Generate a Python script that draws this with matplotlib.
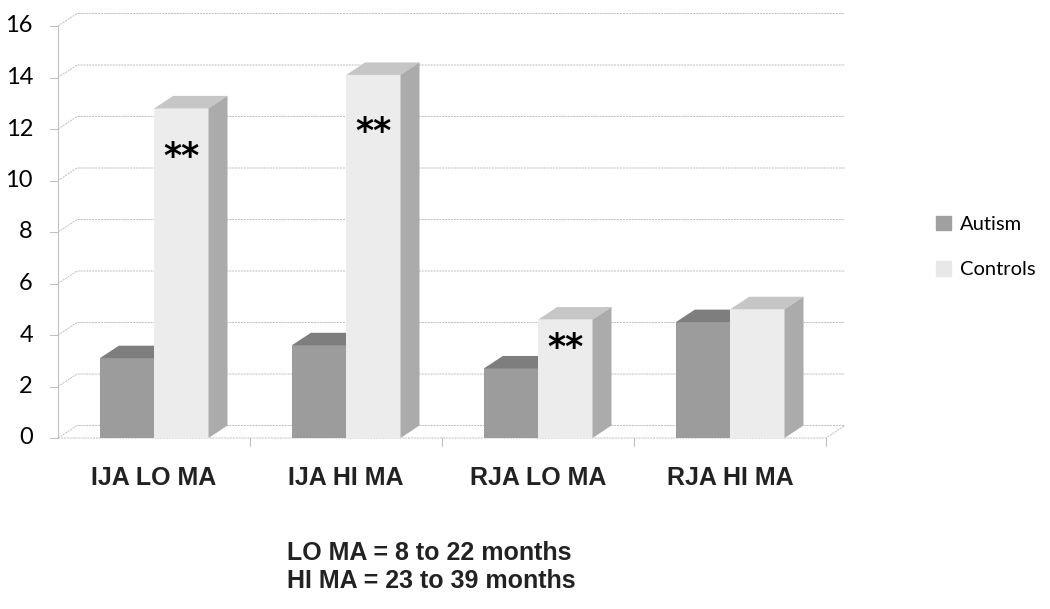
import numpy as np
import matplotlib.pyplot as plt
from matplotlib.patches import Polygon, Patch

# data
categories = ["IJA LO MA", "IJA HI MA", "RJA LO MA", "RJA HI MA"]
autism = [3.1, 3.6, 2.7, 4.5]
controls = [12.8, 14.1, 4.6, 5.0]
stars = ["**", "**", "**", ""]
star_y = [10.9, 11.9, 3.5, 0]
yticks = [0, 2, 4, 6, 8, 10, 12, 14, 16]
footnote = ["LO MA = 8 to 22 months", "HI MA = 23 to 39 months"]

W, H = 1050, 609
fig = plt.figure(figsize=(W / 100, H / 100), dpi=100)
# plot area in pixels: x 58..826, y 26..438
ax = fig.add_axes([58 / W, 1 - 438 / H, 768 / W, 412 / H])
ax.set_xlim(0, 4)
ax.set_ylim(0, 16)
ax.axis("off")

# depth offset in data units
px_x = 4 / 768
px_y = 16 / 412
dx = 19 * px_x
dy = 12.5 * px_y

grid_c = "#bdbdbd"
# walls / gridlines
ax.plot([0, 0], [0, 16], color=grid_c, lw=0.7, clip_on=False)
for t in yticks:
    ax.plot([0, dx, 4 + dx], [t, t + dy, t + dy], color=grid_c, lw=0.7,
            ls=(0, (2, 1)), clip_on=False)
    ax.plot([-8 * px_x, 0], [t, t], color=grid_c, lw=0.7, clip_on=False)
    ax.text(-25 * px_x, t, str(t), ha="right", va="center",
            fontsize=17, family="Lato", color="black")
# floor
ax.plot([0, 4, 4 + dx], [0, 0, dy], color=grid_c, lw=0.7,
        ls=(0, (2, 1)), clip_on=False)
for i in range(1, 5):
    ax.plot([i, i], [0, -8 * px_y], color=grid_c, lw=0.7, clip_on=False)

bw = 0.283
x0 = 0.218


def bar3d(x, w, v, front, top, side):
    ax.bar(x, v, width=w, align="edge", color=front, edgecolor="none",
           zorder=3)
    ax.add_patch(Polygon([(x, v), (x + dx, v + dy), (x + w + dx, v + dy),
                          (x + w, v)], closed=True, color=top, lw=0,
                         zorder=3, clip_on=False))
    ax.add_patch(Polygon([(x + w, 0), (x + w + dx, dy), (x + w + dx, v + dy),
                          (x + w, v)], closed=True, color=side, lw=0,
                         zorder=3, clip_on=False))


for i in range(len(categories)):
    bar3d(i + x0, bw, autism[i], "#9c9c9c", "#7e7e7e", "#8a8a8a")
    bar3d(i + x0 + bw, bw, controls[i], "#ececec", "#c6c6c6", "#ababab")
    if stars[i]:
        ax.text(i + x0 + bw * 1.5, star_y[i], stars[i], ha="center",
                va="center", fontsize=25, fontweight="bold",
                family="DejaVu Sans", zorder=5)
    ax.text(i + 0.5, -40 * px_y, categories[i], ha="center", va="center",
            fontsize=18, fontweight="bold", family="Liberation Sans",
            color="#222222")

handles = [Patch(color="#a0a0a0"), Patch(color="#e8e8e8")]
fig.legend(handles, ["Autism", "Controls"], loc="center left",
           bbox_to_anchor=(918 / W, 1 - 247 / H), frameon=False,
           handlelength=0.75, handleheight=0.75, handletextpad=0.45,
           labelspacing=1.4, prop={"family": "Lato", "size": 14.5})

fig.text(287 / W, 1 - 553 / H, footnote[0], ha="left", va="center",
         fontsize=18, fontweight="bold", family="Liberation Sans",
         color="#222222")
fig.text(287 / W, 1 - 581 / H, footnote[1], ha="left", va="center",
         fontsize=18, fontweight="bold", family="Liberation Sans",
         color="#222222")

fig.savefig("out.png", dpi=100, facecolor="white")
